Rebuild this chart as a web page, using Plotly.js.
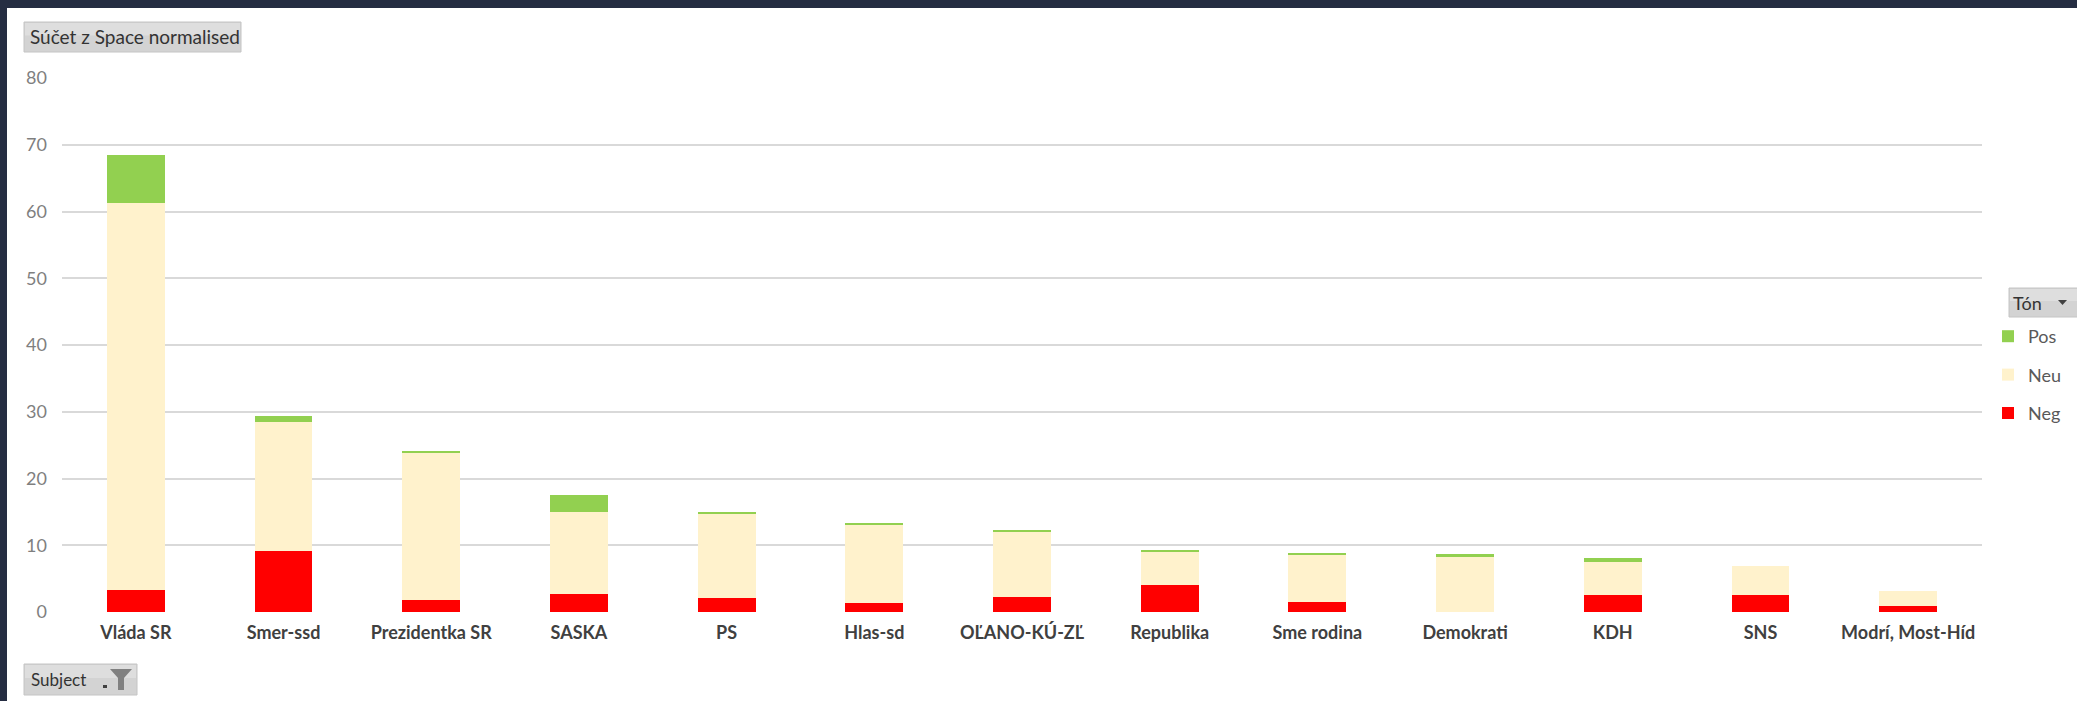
<!DOCTYPE html>
<html>
<head>
<meta charset="utf-8">
<script src="https://cdn.plot.ly/plotly-3.0.1.min.js"></script>
<style>
  html, body { margin: 0; padding: 0; background: #252d42; width: 2077px; height: 701px; overflow: hidden; }
  #chart { position: absolute; left: 7px; top: 8px; width: 2070px; height: 693px; background: #ffffff; }
</style>
</head>
<body>
<div id="chart"></div>
<script>
// ---- data ----
const categories = ["Vláda SR", "Smer-ssd", "Prezidentka SR", "SASKA", "PS", "Hlas-sd", "OĽANO-KÚ-ZĽ", "Republika", "Sme rodina", "Demokrati", "KDH", "SNS", "Modrí, Most-Híd"];
const negValues = [3.34, 9.17, 1.74, 2.69, 2.04, 1.30, 2.24, 4.04, 1.44, 0.00, 2.59, 2.59, 0.95];
const neuValues = [57.90, 19.33, 22.06, 12.26, 12.61, 11.70, 9.72, 4.88, 7.03, 8.27, 4.93, 4.34, 2.24];
const posValues = [7.20, 0.85, 0.27, 2.55, 0.30, 0.30, 0.40, 0.30, 0.30, 0.40, 0.55, 0.00, 0.00];
const yTicks = [0, 10, 20, 30, 40, 50, 60, 70, 80];
const seriesNames = ["Neg", "Neu", "Pos"];
const seriesColors = ["#ff0000", "#fff2cc", "#92d050"];
const legendRanks = [3, 2, 1];
const chartTitle = "Súčet z Space normalised";
const legendTitle = "Tón";
const axisFieldLabel = "Subject";

// ---- geometry helpers (div pixel -> paper) ----
const W = 2070, H = 693;
const M = { l: 55, r: 95, t: 70, b: 89, autoexpand: false };
const PW = W - M.l - M.r, PH = H - M.t - M.b;
const px = X => (X - M.l) / PW;
const py = Y => (H - M.b - Y) / PH;

const FONT = "Lato, 'Open Sans', 'DejaVu Sans', sans-serif";

const seriesData = [negValues, neuValues, posValues];
const traces = seriesNames.map((name, i) => ({
  type: "bar",
  name: name,
  x: categories,
  y: seriesData[i],
  marker: { color: seriesColors[i], line: { width: 0 } },
  legendgroup: name,
  legendrank: legendRanks[i],
  hoverinfo: "x+y+name"
}));

function button(x0, y0, x1, y1) {
  return [
    { type: "rect", xref: "paper", yref: "paper", x0: px(x0), x1: px(x1), y0: py(y0), y1: py(y1),
      fillcolor: "#d3d3d3", line: { width: 1, color: "#c4c4c4" }, layer: "above" },
    { type: "rect", xref: "paper", yref: "paper", x0: px(x0 + 1), x1: px(x1 - 1), y0: py(y0 + 1), y1: py(y0 + (y1 - y0) * 0.45),
      fillcolor: "#dedede", line: { width: 0 }, layer: "above" }
  ];
}

const shapes = [].concat(
  button(17, 14, 234, 44),
  button(17, 656, 130, 687),
  button(2002, 280, 2072, 309),
  [
    // funnel icon
    { type: "path", xref: "paper", yref: "paper", layer: "above",
      path: `M ${px(103)} ${py(661)} L ${px(125)} ${py(661)} L ${px(117)} ${py(670)} L ${px(117)} ${py(682)} L ${px(111)} ${py(682)} L ${px(111)} ${py(670)} Z`,
      fillcolor: "#808080", line: { width: 0 } },
    { type: "rect", xref: "paper", yref: "paper", layer: "above",
      x0: px(96), x1: px(100), y0: py(677), y1: py(680), fillcolor: "#404040", line: { width: 0 } },
    // legend dropdown arrow
    { type: "path", xref: "paper", yref: "paper", layer: "above",
      path: `M ${px(2051)} ${py(292)} L ${px(2060)} ${py(292)} L ${px(2055.5)} ${py(297)} Z`,
      fillcolor: "#404040", line: { width: 0 } }
  ]
);

const annotations = [
  { xref: "paper", yref: "paper", x: px(21), y: py(29), xanchor: "left", yanchor: "middle",
    text: chartTitle, showarrow: false, font: { family: FONT, size: 19, color: "#333333" } },
  { xref: "paper", yref: "paper", x: px(22), y: py(671.5), xanchor: "left", yanchor: "middle",
    text: axisFieldLabel, showarrow: false, font: { family: FONT, size: 17, color: "#333333" } },
  { xref: "paper", yref: "paper", x: px(2004), y: py(294.5), xanchor: "left", yanchor: "middle",
    text: legendTitle, showarrow: false, font: { family: FONT, size: 18, color: "#333333" } }
];

const layout = {
  width: W, height: H,
  margin: M,
  paper_bgcolor: "#ffffff",
  plot_bgcolor: "rgba(0,0,0,0)",
  barmode: "stack",
  bargap: 0.608,
  font: { family: FONT, size: 17, color: "#595959" },
  xaxis: {
    type: "category",
    showgrid: false, showline: false, zeroline: false,
    ticks: "",
    tickfont: { family: FONT, size: 18, color: "#404040", weight: "bold" },
    ticklabelstandoff: 8,
    automargin: false,
    fixedrange: true
  },
  yaxis: {
    range: [0, 80],
    tickvals: yTicks,
    ticktext: yTicks.map(String),
    showgrid: true, gridcolor: "#d9d9d9", gridwidth: 2,
    zeroline: false, showline: false,
    ticks: "",
    tickfont: { family: FONT, size: 18, color: "#7f7f7f" },
    ticklabelstandoff: 14,
    automargin: false,
    fixedrange: true
  },
  showlegend: true,
  legend: {
    x: px(1981), y: py(310), xanchor: "left", yanchor: "top",
    traceorder: "grouped",
    tracegroupgap: 12,
    font: { family: FONT, size: 18, color: "#595959" },
    bgcolor: "rgba(0,0,0,0)",
    itemclick: false, itemdoubleclick: false
  },
  shapes: shapes,
  annotations: annotations
};

Plotly.newPlot("chart", traces, layout, { displayModeBar: false, staticPlot: true });
</script>
</body>
</html>
